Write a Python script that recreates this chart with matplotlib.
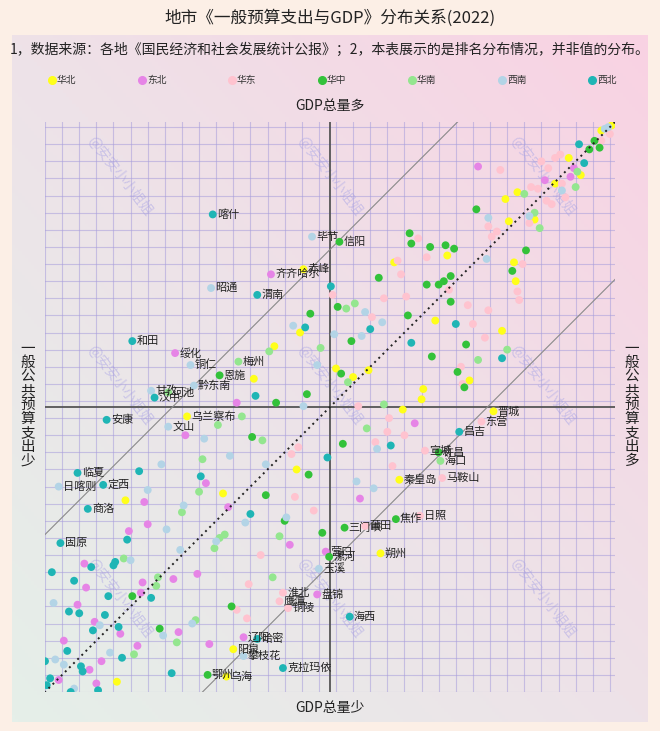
import numpy as np
import matplotlib
matplotlib.use('Agg')
import matplotlib.pyplot as plt
from matplotlib.colors import LinearSegmentedColormap

plt.rcParams['font.family'] = ['Noto Sans CJK SC', 'DejaVu Sans']

# ranks: x = 一般公共预算支出排名, y = GDP排名 (1 = 最多)
regions = ['华北', '东北', '华东', '华中', '华南', '西南', '西北']
colors = ['#ffff1a', '#e684e6', '#ffc3cf', '#33c23a', '#94e68f', '#b3d4e6', '#1fb5b5']

huabei_exp = [2, 8, 27, 20, 35, 57, 64, 62, 47, 98, 129, 59, 58, 105, 66, 85, 163, 153, 144, 112, 113, 124, 184, 199, 211, 186, 229, 286, 291]
huabei_gdp = [2, 5, 21, 31, 36, 41, 45, 58, 57, 78, 82, 82, 93, 116, 122, 151, 144, 149, 145, 156, 162, 168, 123, 131, 150, 203, 217, 221, 327]

dongbei_exp = [80, 24, 26, 41, 117, 149, 221, 251, 239, 275, 226, 273, 284, 310, 309, 276, 258, 244, 277, 190, 314, 304, 289, 255, 237, 322, 279, 300, 307, 325, 303]
dongbei_gdp = [26, 27, 32, 34, 176, 220, 164, 183, 211, 222, 225, 235, 239, 258, 272, 269, 267, 264, 275, 247, 282, 292, 299, 298, 305, 303, 306, 315, 320, 326, 328]

huadong_exp = [3, 32, 35, 43, 39, 31, 67, 49, 45, 40, 37, 29, 50, 74, 69, 72, 115, 110, 127, 125, 97, 135, 122, 86, 54, 57, 56, 165, 74, 142, 83, 76, 90, 89, 150, 132, 133, 123, 140, 130, 189, 185, 187, 176, 207, 214, 221, 215, 8]
huadong_gdp = [7, 19, 21, 23, 27, 36, 28, 38, 39, 46, 48, 44, 59, 61, 64, 67, 68, 79, 81, 89, 98, 103, 102, 107, 83, 99, 104, 101, 110, 114, 118, 126, 143, 153, 166, 173, 181, 183, 187, 201, 194, 190, 219, 227, 253, 270, 285, 290, 11]

huazhong_exp = [12, 15, 9, 81, 120, 119, 108, 99, 94, 138, 110, 103, 100, 96, 96, 52, 60, 162, 121, 154, 87, 107, 92, 88, 160, 178, 180, 198, 159, 212, 204, 179, 193, 171, 282, 266, 224]
huazhong_gdp = [11, 16, 15, 51, 65, 71, 73, 72, 74, 91, 95, 95, 93, 90, 105, 75, 87, 108, 113, 128, 130, 137, 146, 155, 147, 112, 159, 164, 188, 184, 218, 206, 233, 240, 277, 296, 283]

huanan_exp = [22, 23, 53, 47, 44, 157, 152, 63, 80, 156, 135, 145, 172, 202, 218, 232, 206, 241, 243, 253, 196, 228, 231, 234, 287, 267, 268, 200, 245, 256, 281]
huanan_gdp = [29, 38, 42, 53, 62, 109, 106, 133, 139, 152, 165, 179, 132, 134, 172, 177, 186, 197, 216, 228, 242, 241, 243, 249, 255, 266, 271, 266, 291, 304, 311]

xinan_exp = [4, 6, 31, 74, 50, 75, 146, 136, 164, 148, 188, 174, 182, 139, 151, 141, 240, 225, 204, 265, 273, 252, 192, 216, 262, 233, 254, 283, 328, 301, 247, 264, 295, 327, 322, 316]
xinan_gdp = [3, 4, 40, 56, 55, 80, 111, 117, 124, 125, 119, 142, 166, 191, 210, 214, 185, 195, 200, 200, 215, 224, 231, 234, 238, 245, 250, 256, 281, 294, 293, 300, 310, 314, 317, 331]

xibei_exp = [21, 18, 166, 143, 93, 119, 66, 181, 210, 168, 131, 278, 242, 213, 285, 292, 293, 306, 329, 316, 296, 271, 319, 313, 298, 290, 305, 320, 288, 333, 312, 311, 259, 330, 332, 318, 302]
xibei_gdp = [13, 24, 96, 121, 118, 129, 138, 120, 160, 196, 189, 204, 207, 229, 244, 257, 259, 260, 263, 268, 277, 278, 286, 287, 288, 295, 297, 309, 313, 315, 318, 321, 322, 325, 329, 333, 332]

# labelled cities
city_names = ['喀什', '毕节', '信阳', '齐齐哈尔', '赤峰', '昭通', '渭南', '和田', '绥化', '铜仁',
              '梅州', '恩施', '黔东南', '甘孜', '河池', '汉中', '安康', '乌兰察布', '文山', '临夏',
              '日喀则', '定西', '商洛', '固原', '晋城', '东营', '昌吉', '宣城', '许昌', '海口',
              '秦皇岛', '马鞍山', '焦作', '日照', '三门峡', '莆田', '朔州', '营口', '漯河', '玉溪',
              '盘锦', '淮北', '鹰潭', '铜陵', '海西', '辽阳', '哈密', '阳泉', '攀枝花', '克拉玛依',
              '鄂州', '乌海']
city_exp = [235, 177, 161, 201, 182, 236, 209, 282, 257, 248,
            220, 231, 246, 271, 261, 269, 297, 250, 261, 314,
            325, 299, 308, 324, 71, 78, 91, 111, 103, 102,
            126, 101, 128, 114, 158, 146, 137, 169, 167, 173,
            174, 194, 196, 191, 155, 217, 209, 223, 217, 194,
            238, 227]
city_gdp = [54, 67, 70, 89, 86, 97, 101, 128, 135, 142,
            140, 148, 154, 157, 158, 161, 174, 172, 178, 205,
            213, 212, 226, 246, 169, 175, 181, 192, 193, 198,
            209, 208, 232, 230, 237, 236, 252, 251, 254, 261,
            276, 275, 280, 284, 289, 301, 302, 308, 312, 319,
            323, 324]
city_region = ['西北', '西南', '华中', '东北', '华北', '西南', '西北', '西北', '东北', '西南',
               '华南', '华中', '西南', '西南', '华南', '西北', '西北', '华北', '西南', '西北',
               '西南', '西北', '西北', '西北', '华北', '华东', '西北', '华东', '华中', '华南',
               '华北', '华东', '华中', '华东', '华中', '华东', '华北', '东北', '华中', '西南',
               '东北', '华东', '华东', '华东', '西北', '东北', '西北', '华北', '西南', '西北',
               '华中', '华北']

series = [(huabei_exp, huabei_gdp), (dongbei_exp, dongbei_gdp), (huadong_exp, huadong_gdp),
          (huazhong_exp, huazhong_gdp), (huanan_exp, huanan_gdp), (xinan_exp, xinan_gdp),
          (xibei_exp, xibei_gdp)]

N = 333
band = 92

fig = plt.figure(figsize=(6.6, 7.31), dpi=100)
fig.patch.set_facecolor('#fcefe6')

# gradient panel
bg = fig.add_axes([12 / 660, 1 - 722 / 731, 636 / 660, 687 / 731], zorder=0)
gx, gy = np.meshgrid(np.linspace(0, 1, 200), np.linspace(0, 1, 200))
grad = (gx + (1 - gy)) / 2
cmap = LinearSegmentedColormap.from_list('bg', ['#e5efe9', '#eee2e8', '#f9d2e3'])
bg.imshow(grad, cmap=cmap, aspect='auto', extent=[0, 1, 0, 1], origin='upper')
bg.axis('off')

ax = fig.add_axes([45 / 660, 1 - 692 / 731, 570 / 660, 570 / 731], zorder=2)
ax.patch.set_alpha(0)
ax.set_xlim(N, 0)
ax.set_ylim(N, 0)
for s in ax.spines.values():
    s.set_visible(False)
ax.set_xticks([])
ax.set_yticks([])

grid_ticks = np.arange(3, N + 1, 10)
for g in grid_ticks:
    ax.axvline(g, color='#a79ddc', lw=0.8, alpha=0.55, zorder=1)
    ax.axhline(g, color='#a79ddc', lw=0.8, alpha=0.55, zorder=1)

# watermarks
for wx in [120, 330, 543]:
    for wy in [176, 385, 598]:
        fig.text(wx / 660, 1 - wy / 731, '@安安小小姐姐', color='#b4aee6', alpha=0.6,
                 fontsize=10, rotation=-52, ha='center', va='center', zorder=1.5)

ax.axvline(N / 2, color='#555555', lw=1.3, zorder=2)
ax.axhline(N / 2, color='#555555', lw=1.3, zorder=2)
ax.plot([0, N], [0, N], color='#222222', lw=1.4, ls=(0, (1, 2)), zorder=4)
ax.plot([band, N], [0, N - band], color='#8a8a8a', lw=0.8, zorder=2)
ax.plot([0, N - band], [band, N], color='#8a8a8a', lw=0.8, zorder=2)

for (ex, gd), c in zip(series, colors):
    ax.scatter(ex, gd, s=32, color=c, edgecolors='none', zorder=3)

for name, ex, gd, r in zip(city_names, city_exp, city_gdp, city_region):
    c = colors[regions.index(r)]
    ax.scatter([ex], [gd], s=32, color=c, edgecolors='none', zorder=3)
    ax.annotate(name, (ex, gd), xytext=(3, 0), textcoords='offset points',
                fontsize=8, va='center', ha='left', color='#222222', zorder=5)

# texts
fig.text(0.5, 1 - 18 / 731, '地市《一般预算支出与GDP》分布关系(2022)', ha='center', va='center',
         fontsize=12, color='#222222')
fig.text(0.5, 1 - 50 / 731, '1，数据来源：各地《国民经济和社会发展统计公报》；2，本表展示的是排名分布情况，并非值的分布。',
         ha='center', va='center', fontsize=10, color='#222222')
for i, (r, c) in enumerate(zip(regions, colors)):
    lx = (52 + 90 * i) / 660
    ly = 1 - 80 / 731
    fig.add_artist(plt.Line2D([lx], [ly], marker='o', markersize=5.5, color=c, lw=0,
                              transform=fig.transFigure))
    fig.text(lx + 5 / 660, ly, r, ha='left', va='center', fontsize=7, color='#333333')

fig.text(0.5, 1 - 106 / 731, 'GDP总量多', ha='center', va='center', fontsize=10, color='#222222')
fig.text(0.5, 1 - 708 / 731, 'GDP总量少', ha='center', va='center', fontsize=10, color='#222222')
fig.text(28 / 660, 1 - 405 / 731, '\n'.join('一般公共预算支出少'), ha='center', va='center',
         fontsize=10.5, linespacing=1.0, color='#222222')
fig.text(632 / 660, 1 - 405 / 731, '\n'.join('一般公共预算支出多'), ha='center', va='center',
         fontsize=10.5, linespacing=1.0, color='#222222')

fig.savefig('out.png', dpi=100, facecolor=fig.get_facecolor())
